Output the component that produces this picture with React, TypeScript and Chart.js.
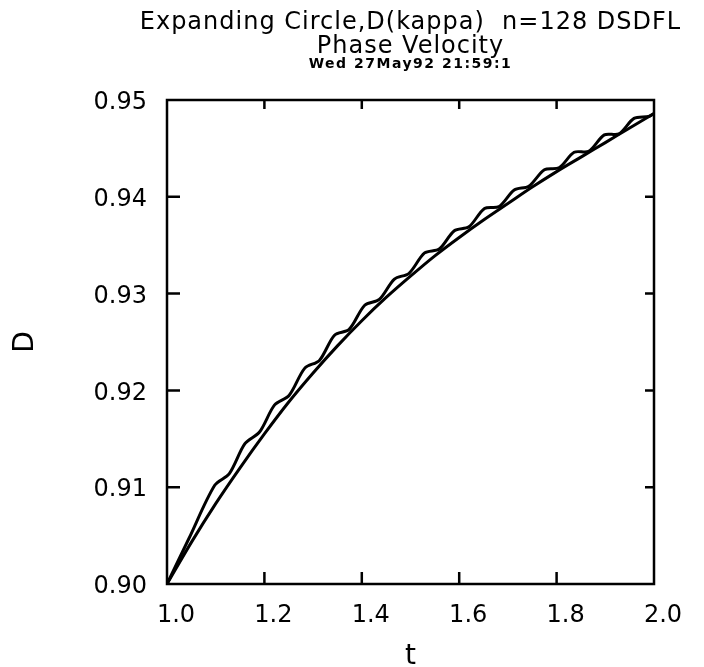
import React, { useEffect, useRef } from "react";
import { Chart, registerables } from "chart.js";

Chart.register(...registerables);

// ---- data ----
const TITLE_1 = "Expanding Circle,D(kappa)  n=128 DSDFL";
const TITLE_2 = "Phase Velocity";
const TITLE_3 = "Wed 27May92 21:59:1";
const X_LABEL = "t";
const Y_LABEL = "D";

const X_TICKS = [1.0, 1.2, 1.4, 1.6, 1.8, 2.0];
const Y_TICKS = [0.9, 0.91, 0.92, 0.93, 0.94, 0.95];

// smooth (exact) curve
const T_SMOOTH = [1.0, 1.05, 1.1, 1.15, 1.2, 1.25, 1.3, 1.35, 1.4, 1.45, 1.5, 1.55, 1.6, 1.65, 1.7, 1.75, 1.8, 1.85, 1.9, 1.95, 2.0];
const D_SMOOTH = [0.9, 0.9043, 0.9083, 0.912, 0.9155, 0.9188, 0.9218, 0.9246, 0.9272, 0.9296, 0.9318, 0.9339, 0.9358, 0.9376, 0.9393, 0.941, 0.9426, 0.9441, 0.9456, 0.9471, 0.9486];

// wavy (computed) curve
const T_WAVY = [1.0, 1.045, 1.098, 1.128, 1.16, 1.19, 1.221, 1.251, 1.283, 1.313, 1.344, 1.374, 1.406, 1.436, 1.467, 1.497, 1.529, 1.559, 1.59, 1.62, 1.652, 1.682, 1.713, 1.743, 1.775, 1.805, 1.836, 1.866, 1.898, 1.928, 1.959, 1.989, 2.0];
const D_WAVY = [0.9, 0.9047, 0.9102, 0.9114, 0.9145, 0.9157, 0.9185, 0.9195, 0.9223, 0.9231, 0.9257, 0.9263, 0.9288, 0.9294, 0.9315, 0.9321, 0.9342, 0.9346, 0.9365, 0.9369, 0.9388, 0.939, 0.9407, 0.9411, 0.9428, 0.943, 0.9446, 0.9447, 0.9464, 0.9465, 0.9481, 0.9483, 0.9486];

const FONT = "'DejaVu Sans', sans-serif";

const framePlugin = {
  id: "frameAndTitles",
  afterDraw(chart: any) {
    const { ctx, chartArea } = chart;
    const { left, right, top, bottom } = chartArea;
    const xs = chart.scales.x;
    const ys = chart.scales.y;
    ctx.save();
    ctx.strokeStyle = "#000";
    ctx.lineWidth = 2.5;
    ctx.strokeRect(left, top, right - left, bottom - top);
    ctx.beginPath();
    xs.ticks.forEach((t: any) => {
      const px = xs.getPixelForValue(t.value);
      if (px > left + 2 && px < right - 2) {
        ctx.moveTo(px, bottom);
        ctx.lineTo(px, bottom - 12);
        ctx.moveTo(px, top);
        ctx.lineTo(px, top + 9);
      }
    });
    ys.ticks.forEach((t: any) => {
      const py = ys.getPixelForValue(t.value);
      if (py > top + 2 && py < bottom - 2) {
        ctx.moveTo(left, py);
        ctx.lineTo(left + 13, py);
        ctx.moveTo(right, py);
        ctx.lineTo(right - 9, py);
      }
    });
    ctx.stroke();

    // titles
    const cx = (left + right) / 2;
    ctx.fillStyle = "#000";
    ctx.textAlign = "center";
    ctx.textBaseline = "alphabetic";
    (ctx as any).letterSpacing = "1px";
    ctx.font = `24px ${FONT}`;
    ctx.fillText(TITLE_1, cx, 29);
    ctx.fillText(TITLE_2, cx, 53);
    (ctx as any).letterSpacing = "1.5px";
    ctx.font = `bold 14px ${FONT}`;
    ctx.fillText(TITLE_3, cx, 68);
    (ctx as any).letterSpacing = "0px";
    ctx.restore();
  },
};

export default function App() {
  const ref = useRef<HTMLCanvasElement | null>(null);

  useEffect(() => {
    if (!ref.current) return;
    const chart = new Chart(ref.current, {
      type: "line",
      data: {
        datasets: [
          {
            label: "exact",
            data: T_SMOOTH.map((t, i) => ({ x: t, y: D_SMOOTH[i] })),
            borderColor: "#000",
            borderWidth: 3,
            pointRadius: 0,
            fill: false,
            cubicInterpolationMode: "monotone",
          },
          {
            label: "computed",
            data: T_WAVY.map((t, i) => ({ x: t, y: D_WAVY[i] })),
            borderColor: "#000",
            borderWidth: 3,
            pointRadius: 0,
            fill: false,
            tension: 0.3,
          },
        ],
      },
      options: {
        animation: false,
        responsive: false,
        layout: { padding: { top: 100, right: 50, left: 0, bottom: 0 } },
        plugins: {
          legend: { display: false },
          title: { display: false },
          tooltip: { enabled: false },
        },
        scales: {
          x: {
            type: "linear",
            min: 1,
            max: 2,
            afterBuildTicks: (s: any) => {
              s.ticks = X_TICKS.map((v) => ({ value: v }));
            },
            afterFit: (s: any) => {
              s.height = 83;
            },
            ticks: {
              callback: (v: any) => Number(v).toFixed(1),
              font: { family: FONT, size: 24 },
              color: "#000",
              padding: 17,
              labelOffset: 9,
              maxRotation: 0,
              autoSkip: false,
            },
            grid: { display: false, drawTicks: false },
            border: { display: false },
            title: {
              display: true,
              text: X_LABEL,
              font: { family: FONT, size: 28, lineHeight: 0.7 },
              color: "#000",
              padding: { top: 0, bottom: 0 },
            },
          },
          y: {
            type: "linear",
            min: 0.9,
            max: 0.95,
            afterBuildTicks: (s: any) => {
              s.ticks = Y_TICKS.map((v) => ({ value: v }));
            },
            afterFit: (s: any) => {
              s.width = 167;
            },
            ticks: {
              callback: (v: any) => Number(v).toFixed(2),
              font: { family: FONT, size: 24 },
              color: "#000",
              padding: 20,
              labelOffset: 3,
              autoSkip: false,
            },
            grid: { display: false, drawTicks: false },
            border: { display: false },
            title: {
              display: true,
              text: Y_LABEL,
              font: { family: FONT, size: 28 },
              color: "#000",
              padding: { top: 9, bottom: 0 },
            },
          },
        },
      },
      plugins: [framePlugin],
    });
    return () => chart.destroy();
  }, []);

  return (
    <div style={{ position: "fixed", left: 0, top: 0, width: 704, height: 667, background: "#fff" }}>
      <canvas ref={ref} width={704} height={667} style={{ display: "block" }} />
    </div>
  );
}
